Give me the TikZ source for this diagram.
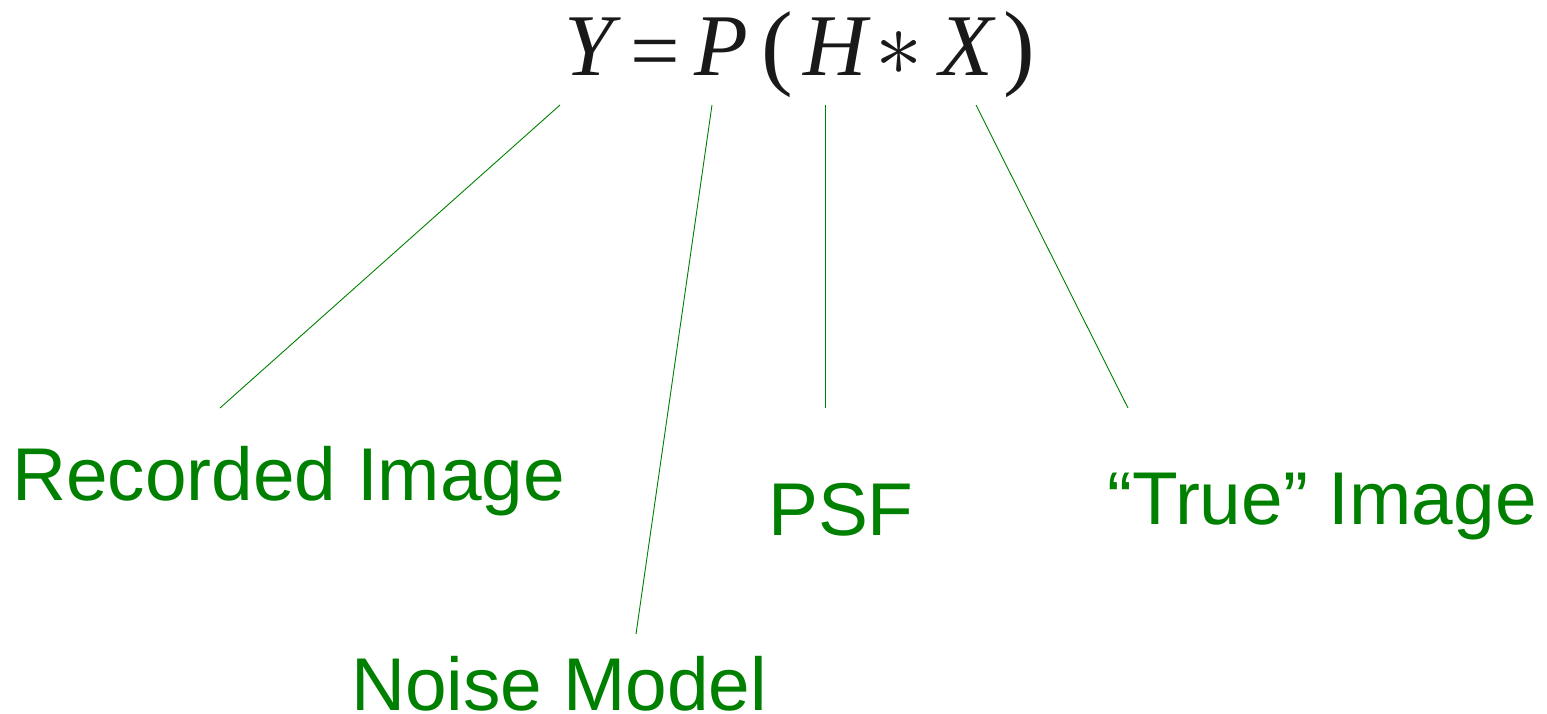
\documentclass[tikz,border=0pt]{standalone}
\usepackage{fontspec}
\setmainfont{Liberation Sans}
\newfontfamily\eqfont{Liberation Serif}
\definecolor{lblgreen}{RGB}{0,128,0}
\begin{document}
\begin{tikzpicture}[x=1pt,y=-1pt,
  lbl/.style={inner sep=0pt,anchor=base west,text=lblgreen,font=\fontsize{74.8}{80}\selectfont},
  sym/.style={inner sep=0pt,anchor=base,text=black!90,font=\fontsize{88}{96}\selectfont\eqfont},
  paren/.style={sym,font=\fontsize{95}{100}\selectfont\eqfont},
  conn/.style={draw=lblgreen,line width=0.9pt}]
\useasboundingbox (0,0) rectangle (1547,713);
% equation
\node[sym] (Y) at (589,75) {\itshape Y};
\node[sym] (eq) at (655,80) {=};
\node[sym] (P) at (721,75) {\itshape P};
\node[paren] (lp) at (777,77) {(};
\node[sym] (H) at (835,75) {\itshape H};
\node[sym] (ast) at (899,75) {\scalebox{3.8}{$\ast$}};
\node[sym] (X) at (966,75) {\itshape X};
\node[paren] (rp) at (1019,77) {)};
% labels
\node[lbl] (rec) at (12,500) {Recorded Image};
\node[lbl] (noise) at (351,710) {Noise Model};
\node[lbl] (psf) at (768,535) {PSF};
\node[lbl] (true) at (1107,524) {“True” Image};
% connector ends
\coordinate (yb) at (560,105);
\coordinate (pb) at (712,105);
\coordinate (hb) at (825,105);
\coordinate (xb) at (976,105);
\coordinate (rect) at (220,408);
\coordinate (noit) at (636,634);
\coordinate (psft) at (825,408);
\coordinate (truet) at (1128,408);
\draw[conn] (yb) -- (rect);
\draw[conn] (pb) -- (noit);
\draw[conn] (hb) -- (psft);
\draw[conn] (xb) -- (truet);
\end{tikzpicture}
\end{document}
